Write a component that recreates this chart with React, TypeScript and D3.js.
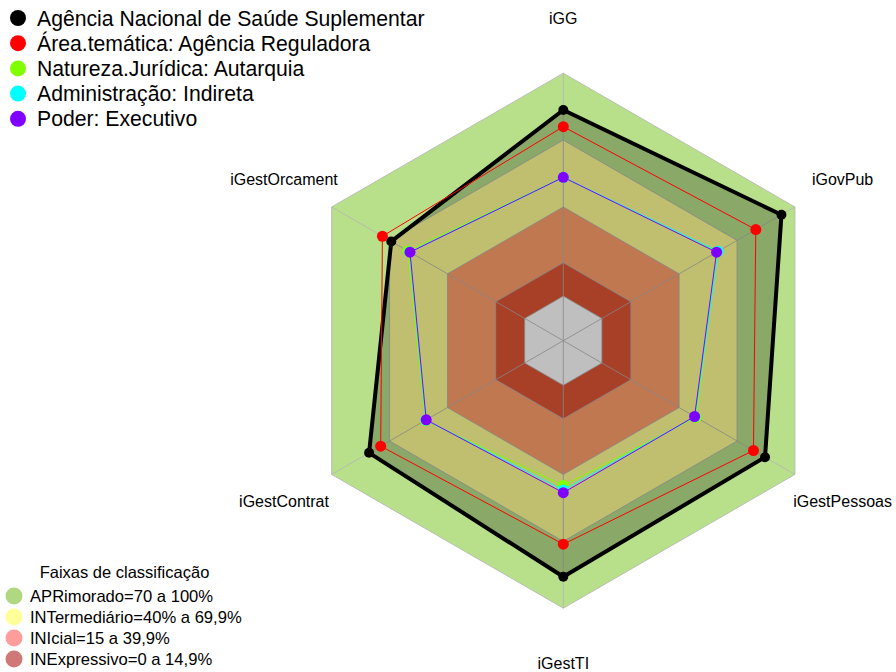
// radar chart of governance indices, drawn with d3 scales and shapes
import * as d3 from "d3";

// axis names (counter-clockwise from the top)
const axes = ["iGG", "iGestOrcament", "iGestContrat", "iGestTI", "iGestPessoas", "iGovPub"];

// series names and colours
const seriesNames = [
  "Agência Nacional de Saúde Suplementar",
  "Área.temática: Agência Reguladora",
  "Natureza.Jurídica: Autarquia",
  "Administração: Indireta",
  "Poder: Executivo",
];
const seriesColors = ["#000000", "#ff0000", "#80ff00", "#00ffff", "#8000ff"];

// values, same order as axes
const anssValues = [83.5, 69.1, 80.6, 85.9, 84.5, 93.0];
const areaValues = [76.0, 73.7, 74.6, 71.3, 78.5, 79.7];
const naturezaValues = [53.3, 60.5, 51.5, 45.0, 48.8, 59.8];
const adminValues = [53.3, 59.6, 51.2, 47.0, 48.2, 60.2];
const poderValues = [53.3, 59.4, 51.0, 48.2, 48.0, 59.4];
const allValues = [anssValues, areaValues, naturezaValues, adminValues, poderValues];

// classification bands
const bandLabels = [
  "APRimorado=70 a 100%",
  "INTermediário=40% a 69,9%",
  "INIcial=15 a 39,9%",
  "INExpressivo=0 a 14,9%",
];
const bandUpper = [100, 70, 40, 15];
const bandColors = ["#b8e08b", "#ffff95", "#ffa06b", "#e05535"];
const bandLegendColors = ["#b0d880", "#ffff99", "#ff9c9c", "#d07878"];

const W = 896;
const H = 672;
const cx = 563.3;
const cy = 340.7;
const R = 267.5;
const font = "'Liberation Sans', Arial, sans-serif";

export default function App() {
  // value -> radius, with the fmsb style hole in the middle
  const r = d3.scaleLinear().domain([0, 100]).range([R / 6, R]);
  const angle = (i: number) => Math.PI / 2 + (i * 2 * Math.PI) / axes.length;
  const px = (i: number, rad: number) => cx + rad * Math.cos(angle(i));
  const py = (i: number, rad: number) => cy - rad * Math.sin(angle(i));

  const ring = (v: number) =>
    d3.line().curve(d3.curveLinearClosed)(axes.map((_, i) => [px(i, r(v)), py(i, r(v))]) as [number, number][]) || "";
  const seriesPath = (vals: number[]) =>
    d3.line().curve(d3.curveLinearClosed)(vals.map((v, i) => [px(i, r(v)), py(i, r(v))]) as [number, number][]) || "";

  return (
    <svg width={W} height={H} style={{ position: "absolute", left: 0, top: 0, background: "#fff" }} fontFamily={font}>
      {/* bands */}
      {bandUpper.map((v, k) => (
        <path key={k} d={ring(v)} fill={bandColors[k]} stroke="#b4b4b4" strokeWidth={0.8} />
      ))}
      <path d={ring(0)} fill="#ffffff" stroke="#b4b4b4" strokeWidth={0.8} />

      {/* radial axis lines */}
      {axes.map((_, i) => (
        <line key={i} x1={cx} y1={cy} x2={px(i, R)} y2={py(i, R)} stroke="#b4b4b4" strokeWidth={0.8} />
      ))}

      {/* filled area of the first series */}
      <path d={seriesPath(anssValues)} fill="rgba(0,0,0,0.25)" stroke="none" />

      {/* series lines and points */}
      {allValues.map((vals, s) => (
        <g key={s}>
          <path d={seriesPath(vals)} fill="none" stroke={seriesColors[s]} strokeWidth={s === 0 ? 4 : 1} strokeLinejoin="round" />
          {vals.map((v, i) => (
            <circle key={i} cx={px(i, r(v))} cy={py(i, r(v))} r={s === 0 ? 5 : 5.5} fill={seriesColors[s]} />
          ))}
        </g>
      ))}

      {/* axis labels */}
      {axes.map((a, i) => (
        <text key={a} x={px(i, R + 55)} y={py(i, R + 55)} textAnchor="middle" dominantBaseline="central" fontSize={16} fill="#000">
          {a}
        </text>
      ))}

      {/* series legend */}
      {seriesNames.map((n, s) => (
        <g key={n} transform={`translate(0,${18 + s * 25.2})`}>
          <circle cx={18} cy={0} r={8} fill={seriesColors[s]} />
          <text x={37} y={0} dominantBaseline="central" fontSize={21.2} fill="#000">
            {n}
          </text>
        </g>
      ))}

      {/* band legend */}
      <text x={124.5} y={572} textAnchor="middle" dominantBaseline="central" fontSize={16.5} fill="#000">
        Faixas de classificação
      </text>
      {bandLabels.map((b, k) => (
        <g key={b} transform={`translate(0,${596 + k * 21})`}>
          <circle cx={14} cy={0} r={8.5} fill={bandLegendColors[k]} />
          <text x={30} y={0} dominantBaseline="central" fontSize={16.6} fill="#000">
            {b}
          </text>
        </g>
      ))}
    </svg>
  );
}
